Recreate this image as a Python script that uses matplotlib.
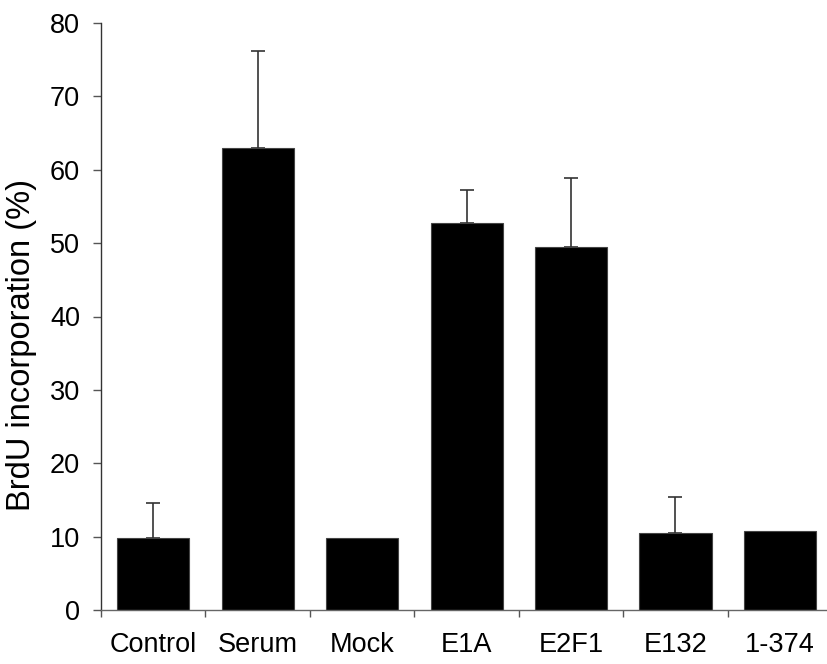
import numpy as np
import matplotlib
matplotlib.use("Agg")
import matplotlib.pyplot as plt
from matplotlib.ticker import FixedLocator

# BrdU incorporation per treatment (%), upper error only
groups = ["Control", "Serum", "Mock", "E1A", "E2F1", "E132", "1-374"]
brdu = [9.8, 62.9, 9.8, 52.7, 49.5, 10.5, 10.8]
err_up = [4.8, 13.3, 0.0, 4.5, 9.4, 4.9, 0.0]
has_err = [True, True, False, True, True, True, False]

plt.rcParams['font.family'] = ['Liberation Sans', 'DejaVu Sans']
plt.rcParams['font.size'] = 19.5

fig = plt.figure(figsize=(8.28, 6.64), dpi=100)
ax = fig.add_axes([101 / 828, 1 - 610 / 664, 1 - 101 / 828, (610 - 23) / 664])

x = np.arange(len(groups))
ax.bar(x, brdu, width=0.69, color="black", edgecolor="#444444", linewidth=0.8, zorder=2)

xe = [xi for xi, h in zip(x, has_err) if h]
ye = [v for v, h in zip(brdu, has_err) if h]
ee = [e for e, h in zip(err_up, has_err) if h]
ax.errorbar(xe, ye, yerr=[np.zeros(len(ee)), ee], fmt="none", ecolor="#333333",
            elinewidth=1.2, capsize=5, capthick=1.2, zorder=1)

ax.set_xlim(-0.5, 6.46)
ax.set_ylim(0, 80)
ax.set_yticks(np.arange(0, 81, 10))

# labels centred under bars, tick marks between categories
ax.set_xticks(x)
ax.set_xticklabels(groups)
ax.xaxis.set_minor_locator(FixedLocator(np.arange(-0.5, 6.5, 1.0)))
ax.tick_params(axis="x", which="major", length=0, pad=16)
ax.tick_params(axis="x", which="minor", length=5, width=1, color="#555555", direction="out")
ax.tick_params(axis="y", length=6, width=1, color="#555555", pad=9)

for s in ["top", "right"]:
    ax.spines[s].set_visible(False)
ax.spines["left"].set_color("#333333")
ax.spines["bottom"].set_color("#666666")
ax.spines["left"].set_linewidth(1)
ax.spines["bottom"].set_linewidth(1)

fig.text(22 / 828, 1 - 345 / 664, "BrdU incorporation (%)", rotation=90,
         ha="center", va="center", fontsize=23.5)

fig.savefig("out.png", dpi=100)
